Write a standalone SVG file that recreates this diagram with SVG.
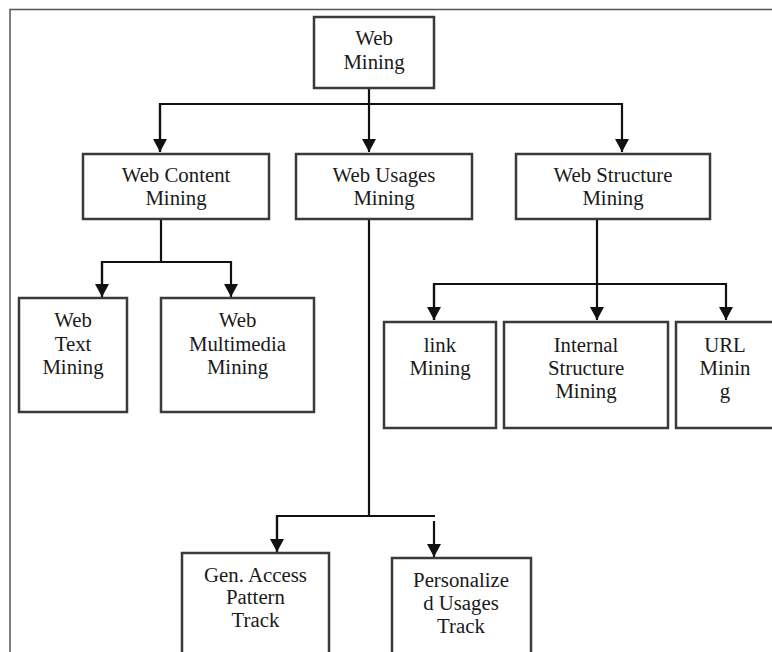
<svg xmlns="http://www.w3.org/2000/svg" width="772" height="652" viewBox="0 0 772 652">
<style>
.box{fill:#fff;stroke:#3a3a3a;stroke-width:2.5}
.t{font-family:"Liberation Serif","Times New Roman",serif;font-size:20.8px;fill:#1a1a1a;text-anchor:middle}
.c{fill:none;stroke:#111;stroke-width:2.2}
.frame{fill:none;stroke:#555;stroke-width:1.5}
</style>
<defs>
<marker id="ah" viewBox="0 0 13 14" refX="13" refY="7" markerWidth="13" markerHeight="14" markerUnits="userSpaceOnUse" orient="auto">
<path d="M0,0 L13,7 L0,14 z" fill="#111"/>
</marker>
</defs>
<rect width="772" height="652" fill="#fff"/>
<path class="frame" d="M10,652 V9.5 H772"/>
<g id="connectors">
<path class="c" d="M369,88 V152" marker-end="url(#ah)"/>
<path class="c" d="M160,152 V104 H622 V152" marker-end="url(#ah)"/>
<path class="c" d="M160,104 V152" marker-end="url(#ah)"/>
<path class="c" d="M161,219 V262"/>
<path class="c" d="M102,297 V262 H231 V297" marker-end="url(#ah)"/>
<path class="c" d="M102,262 V297" marker-end="url(#ah)"/>
<path class="c" d="M597,219 V320" marker-end="url(#ah)"/>
<path class="c" d="M434,320 V284 H726 V320" marker-end="url(#ah)"/>
<path class="c" d="M434,284 V320" marker-end="url(#ah)"/>
<path class="c" d="M369,219 V516"/>
<path class="c" d="M277,552 V516 H435"/>
<path class="c" d="M277,516 V552" marker-end="url(#ah)"/>
<path class="c" d="M434,521 V557" marker-end="url(#ah)"/>
</g>
<g id="web-mining">
<rect class="box" x="314" y="17" width="120" height="71"/>
<text class="t" x="374" y="45">Web</text>
<text class="t" x="374" y="68.5">Mining</text>
</g>
<g id="web-content-mining">
<rect class="box" x="83" y="154" width="186" height="65"/>
<text class="t" x="176" y="182">Web Content</text>
<text class="t" x="176" y="205">Mining</text>
</g>
<g id="web-usages-mining">
<rect class="box" x="296" y="154" width="176" height="65"/>
<text class="t" x="384" y="182">Web Usages</text>
<text class="t" x="384" y="205">Mining</text>
</g>
<g id="web-structure-mining">
<rect class="box" x="516" y="154" width="194" height="65"/>
<text class="t" x="613" y="182">Web Structure</text>
<text class="t" x="613" y="205">Mining</text>
</g>
<g id="web-text-mining">
<rect class="box" x="19" y="298" width="108" height="114"/>
<text class="t" x="73" y="327">Web</text>
<text class="t" x="73" y="350.5">Text</text>
<text class="t" x="73" y="374">Mining</text>
</g>
<g id="web-multimedia-mining">
<rect class="box" x="161" y="298" width="153" height="114"/>
<text class="t" x="237.5" y="327">Web</text>
<text class="t" x="237.5" y="350.5">Multimedia</text>
<text class="t" x="237.5" y="374">Mining</text>
</g>
<g id="link-mining">
<rect class="box" x="384" y="322" width="112" height="106"/>
<text class="t" x="440" y="352">link</text>
<text class="t" x="440" y="375">Mining</text>
</g>
<g id="internal-structure-mining">
<rect class="box" x="504" y="322" width="164" height="106"/>
<text class="t" x="586" y="352">Internal</text>
<text class="t" x="586" y="375">Structure</text>
<text class="t" x="586" y="398">Mining</text>
</g>
<g id="url-mining">
<rect class="box" x="676" y="322" width="100" height="106"/>
<text class="t" x="725" y="352">URL</text>
<text class="t" x="725" y="375">Minin</text>
<text class="t" x="725" y="398">g</text>
</g>
<g id="gen-access-pattern-track">
<rect class="box" x="182" y="553" width="147" height="104"/>
<text class="t" x="255.5" y="582">Gen. Access</text>
<text class="t" x="255.5" y="604">Pattern</text>
<text class="t" x="255.5" y="627">Track</text>
</g>
<g id="personalized-usages-track">
<rect class="box" x="392" y="558" width="139" height="99"/>
<text class="t" x="461" y="587">Personalize</text>
<text class="t" x="461" y="610">d Usages</text>
<text class="t" x="461" y="633">Track</text>
</g>
</svg>
